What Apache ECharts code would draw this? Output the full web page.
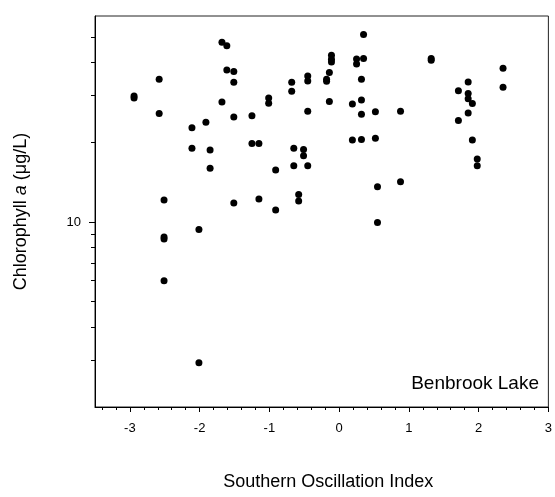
<!DOCTYPE html>
<html>
<head>
<meta charset="utf-8">
<script src="https://cdn.jsdelivr.net/npm/echarts@6/dist/echarts.min.js"></script>
<style>
  html, body { margin: 0; padding: 0; background: #fff; }
  #chart { width: 555px; height: 497px; }
</style>
</head>
<body>
<div id="chart"></div>
<script>
// Southern Oscillation Index vs. chlorophyll a, Benbrook Lake
const soi = [
  -2.94, -2.94, -2.58, -2.58, -2.51, -2.51, -2.51, -2.51,
  -2.11, -2.11, -2.01, -2.01, -1.91, -1.85, -1.85,
  -1.68, -1.61, -1.61, -1.51, -1.51, -1.68, -1.51, -1.51,
  -1.25, -1.25, -1.15, -1.15, -1.01, -1.01, -0.91, -0.91,
  -0.68, -0.68, -0.65, -0.65, -0.58, -0.58, -0.51, -0.51,
  -0.45, -0.45, -0.45, -0.45, -0.18, -0.18, -0.14, -0.14,
  -0.11, -0.11, -0.11, 0.19, 0.19, 0.25, 0.25,
  0.32, 0.32, 0.32, 0.32, 0.35, 0.35, 0.52, 0.52,
  0.55, 0.55, 0.88, 0.88, 1.32, 1.32, 1.71, 1.71,
  1.85, 1.85, 1.85, 1.85, 1.91, 1.91, 1.98, 1.98, 2.35, 2.35
];
const chla = [
  29.9, 29.4, 34.6, 25.7, 12.1, 8.78, 8.63, 6.0,
  22.7, 19.0, 9.36, 2.94, 23.8, 18.7, 15.96,
  47.7, 46.3, 37.5, 37.0, 33.7, 28.4, 24.9, 11.8,
  25.2, 19.8, 19.8, 12.2, 29.4, 28.1, 15.7, 11.1,
  33.7, 31.2, 19.0, 16.3, 12.7, 12.0, 18.8, 17.8,
  35.6, 34.1, 26.2, 16.3, 34.6, 34.0, 36.7, 28.5,
  42.6, 41.2, 40.2, 27.9, 20.4, 41.3, 39.5,
  34.6, 28.9, 25.5, 20.5, 51.1, 41.5, 26.1, 20.7,
  13.6, 9.95, 26.2, 14.2, 41.5, 40.8, 31.3, 24.2,
  33.8, 30.6, 29.2, 25.8, 28.0, 20.4, 17.3, 16.3, 38.1, 32.3
];

// axis ticks and labels
const xMajorTicks = [-3, -2, -1, 0, 1, 2, 3];
const yLabelTicks = [10];
const yMinorTicks = [3, 4, 5, 6, 7, 8, 9, 20, 30, 40, 50];

// fifth-unit minor ticks on the SOI axis
const xMinorTicks = [];
for (let k = -17; k <= 15; k++) {
  if (k % 5 !== 0) xMinorTicks.push(+(k * 0.2).toFixed(1));
}

const FONT = '"Liberation Sans", Arial, sans-serif';
const X_MIN = -3.5, X_MAX = 3, Y_MIN = 2, Y_MAX = 60;

const chart = echarts.init(document.getElementById('chart'), null, { renderer: 'canvas' });

const option = {
  animation: false,
  backgroundColor: '#fff',
  grid: {
    left: 95, right: 5, top: 16, bottom: 90,
    show: true, borderColor: '#222', borderWidth: 1
  },
  xAxis: [
    {
      type: 'value', min: X_MIN, max: X_MAX, position: 'bottom',
      name: 'Southern Oscillation Index',
      nameLocation: 'middle', nameGap: 66,
      nameTextStyle: { fontFamily: FONT, fontSize: 18, color: '#000', padding: [0, 0, 0, 13] },
      axisLine: { show: true, onZero: false, lineStyle: { color: '#000', width: 1 } },
      axisTick: { show: true, inside: false, length: 5, customValues: xMajorTicks, lineStyle: { color: '#000' } },
      axisLabel: { show: true, margin: 15, customValues: xMajorTicks, fontFamily: FONT, fontSize: 13, color: '#000' },
      splitLine: { show: false }
    },
    {
      type: 'value', min: X_MIN, max: X_MAX, position: 'bottom',
      axisLine: { show: false, onZero: false },
      axisTick: { show: true, inside: false, length: 3, customValues: xMinorTicks, lineStyle: { color: '#000' } },
      axisLabel: { show: false },
      splitLine: { show: false }
    }
  ],
  yAxis: [
    {
      type: 'log', logBase: 10, min: Y_MIN, max: Y_MAX, position: 'left',
      name: 'Chlorophyll {i|a} (μg/L)',
      nameLocation: 'middle', nameGap: 65, nameRotate: 90,
      nameTextStyle: {
        fontFamily: FONT, fontSize: 18, color: '#000',
        rich: { i: { fontFamily: FONT, fontSize: 18, fontStyle: 'italic', color: '#000' } }
      },
      axisLine: { show: true, onZero: false, lineStyle: { color: '#000', width: 1 } },
      axisTick: { show: true, inside: false, length: 6, customValues: yLabelTicks, lineStyle: { color: '#000' } },
      axisLabel: { show: true, margin: 14, customValues: yLabelTicks, fontFamily: FONT, fontSize: 13, color: '#000' },
      splitLine: { show: false }
    },
    {
      type: 'log', logBase: 10, min: Y_MIN, max: Y_MAX, position: 'left',
      axisLine: { show: false, onZero: false },
      axisTick: { show: true, inside: false, length: 4, customValues: yMinorTicks, lineStyle: { color: '#000' } },
      axisLabel: { show: false },
      splitLine: { show: false }
    }
  ],
  graphic: [
    {
      type: 'text', right: 16, top: 374,
      style: { text: 'Benbrook Lake', fontFamily: FONT, fontSize: 19, fill: '#000' }
    }
  ],
  series: [
    {
      type: 'scatter',
      xAxisIndex: 0, yAxisIndex: 0,
      symbol: 'circle', symbolSize: 7,
      itemStyle: { color: '#000', opacity: 1 },
      silent: true,
      data: soi.map((x, i) => [x, chla[i]])
    }
  ]
};

chart.setOption(option);
</script>
</body>
</html>
